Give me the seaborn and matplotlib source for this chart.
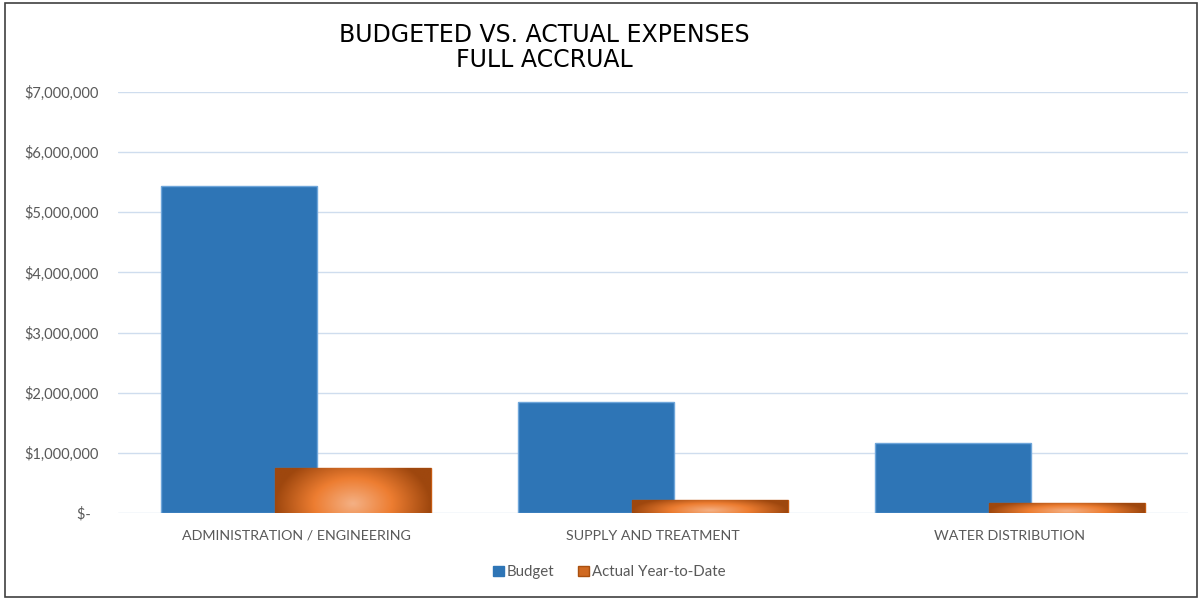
import matplotlib
matplotlib.use("Agg")
import matplotlib.pyplot as plt
import seaborn as sns
import numpy as np
import pandas as pd
from matplotlib.colors import LinearSegmentedColormap
from matplotlib.patches import Rectangle, Patch
from matplotlib.ticker import FuncFormatter

# values
categories = ["ADMINISTRATION / ENGINEERING", "SUPPLY AND TREATMENT", "WATER DISTRIBUTION"]
budget = [5437000, 1840000, 1165000]
actual = [750000, 215000, 165000]
series = ["Budget", "Actual Year-to-Date"]

df = pd.DataFrame({
    "category": categories * 2,
    "value": budget + actual,
    "series": [series[0]] * 3 + [series[1]] * 3,
})

sns.set_style("white")
plt.rcParams["font.family"] = ["Lato", "DejaVu Sans"]

fig = plt.figure(figsize=(12.02, 5.99), dpi=100)
ax = fig.add_axes([0.0982, 0.1436, 0.8902, 0.7028])

blue = "#2E75B6"
orange = "#C55A11"
sns.barplot(data=df, x="category", y="value", hue="series", hue_order=series,
            palette=[blue, orange], saturation=1, width=0.64, gap=-0.366, ax=ax,
            legend=False, linewidth=1)

# border colours
for p in ax.patches[:3]:
    p.set_edgecolor("#6FA6DA")
for p in ax.patches[3:6]:
    p.set_edgecolor("#C55A11")

# radial-ish gradient fill on the actual bars
grad = LinearSegmentedColormap.from_list(
    "og", [(0.0, "#F4B084"), (0.5, "#ED7D31"), (1.0, "#9E470E")])
nx, ny = 240, 60
u = np.linspace(-1, 1, nx)
v = np.linspace(0, 1, ny)
U, V = np.meshgrid(u, v)
D = np.clip(np.sqrt(U ** 2 + (0.9 * (V - 0.2)) ** 2), 0, 1)
for p in ax.patches[3:6]:
    x0, y0 = p.get_x(), p.get_y()
    w, h = p.get_width(), p.get_height()
    im = ax.imshow(D, cmap=grad, origin="lower", aspect="auto",
                   extent=[x0, x0 + w, y0, y0 + h], zorder=p.get_zorder(),
                   interpolation="bilinear")
    im.set_clip_path(p)

ax.set_xlim(-0.5, 2.5)
ax.set_ylim(0, 7000000)
ax.set_yticks(np.arange(0, 7000001, 1000000))


def money(val, pos):
    if val == 0:
        return "$-  "
    return "${:,.0f}".format(val)


ax.yaxis.set_major_formatter(FuncFormatter(money))
ax.grid(axis="y", color="#CFDDEE", linewidth=1)
ax.set_axisbelow(True)
for s in ax.spines.values():
    s.set_visible(False)
ax.tick_params(axis="both", length=0, colors="#595959", labelsize=10.5)
ax.tick_params(axis="y", pad=14)
ax.tick_params(axis="x", pad=12)
ax.tick_params(axis="x", labelsize=10.3)
ax.set_xlabel("")
ax.set_ylabel("")

fig.text(0.4525, 0.921, "BUDGETED VS. ACTUAL EXPENSES\nFULL ACCRUAL", ha="center",
         va="center", fontsize=17, color="#000000", family=["DejaVu Sans"],
         linespacing=1.05)

handles = [Patch(facecolor=blue, edgecolor=blue), Patch(facecolor="#D06A22", edgecolor="#A9500F")]
fig.legend(handles, series, loc="center", bbox_to_anchor=(0.507, 0.045), ncol=2,
           frameon=False, fontsize=10.8, labelcolor="#595959", handlelength=0.7,
           handleheight=0.7, handletextpad=0.2, columnspacing=1.6)

fig.patches.append(Rectangle((0.004, 0.003), 0.992, 0.992, transform=fig.transFigure,
                             fill=False, edgecolor="#404040", linewidth=1.2))

fig.savefig("out.png", dpi=100)
